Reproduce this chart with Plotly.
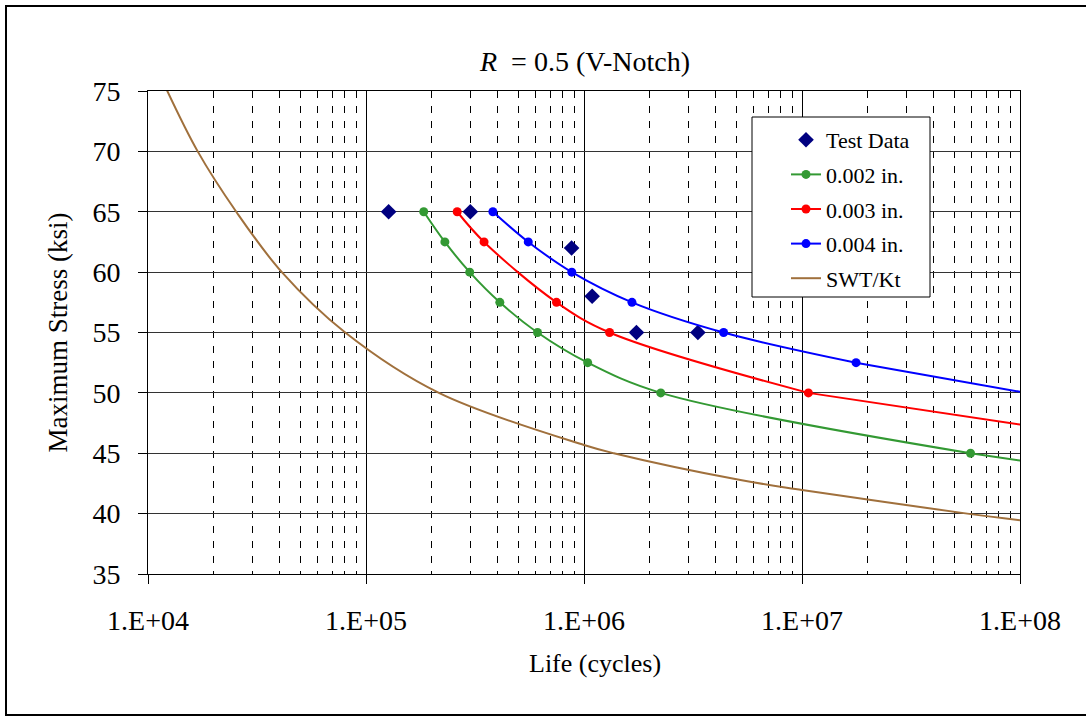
import plotly.graph_objects as go

# ---- data ----
test_life = [1.27e5, 3.01e5, 8.77e5, 1.09e6, 1.74e6, 3.33e6]
test_stress = [65, 65, 62, 58, 55, 55]

g_life = [1.84e5, 2.30e5, 2.99e5, 4.11e5, 6.12e5, 1.04e6, 2.25e6, 5.93e7]
g_stress = [65, 62.5, 60, 57.5, 55, 52.5, 50, 45]

r_life = [2.62e5, 3.48e5, 7.48e5, 1.31e6, 1.07e7]
r_stress = [65, 62.5, 57.5, 55, 50]

b_life = [3.82e5, 5.55e5, 8.79e5, 1.66e6, 4.37e6, 1.77e7]
b_stress = [65, 62.5, 60, 57.5, 55, 52.5]

# continuation of each fitted curve to the right edge
ext_life = 1.09e8
g_ext = 44.3
r_ext = 47.28
b_ext = 49.97

swt_life = [1.18e4, 1.69e4, 2.54e4, 4.11e4, 8.03e4, 2.16e5, 1.0e6, 1.37e6, 5.22e6, 1.0e7, 5.73e7, 1.0e8]
swt_stress = [75.64, 70, 65, 60, 55, 50, 45.68, 45, 42.78, 41.96, 40, 39.46]

x_tickvals = [1e4, 1e5, 1e6, 1e7, 1e8]
x_ticktext = ["1.E+04", "1.E+05", "1.E+06", "1.E+07", "1.E+08"]
y_tickvals = [35, 40, 45, 50, 55, 60, 65, 70, 75]

FONT = "Liberation Serif"
W, H = 1086, 716
L, R, T, B = 148, 66, 91, 142
PW, PH = W - L - R, H - T - B


def px_x(X):
    return (X - L) / PW


def px_y(Y):
    return (H - B - Y) / PH


fig = go.Figure()
fig.add_trace(go.Scatter(
    x=test_life, y=test_stress, mode="markers", name="Test Data", legendgroup="t",
    marker=dict(symbol="diamond", size=12, color="#000080"),
))
for name, xs, ys, ext, col, grp in [
    ("0.002 in.", g_life, g_stress, g_ext, "#339933", "g"),
    ("0.003 in.", r_life, r_stress, r_ext, "#FF0000", "r"),
    ("0.004 in.", b_life, b_stress, b_ext, "#0000FF", "b"),
]:
    fig.add_trace(go.Scatter(
        x=[xs[-1], ext_life], y=[ys[-1], ext], mode="lines", showlegend=False,
        legendgroup=grp, line=dict(color=col, width=2), hoverinfo="skip",
    ))
    fig.add_trace(go.Scatter(
        x=xs, y=ys, mode="lines+markers", name=name, legendgroup=grp,
        line=dict(color=col, width=2, shape="spline", smoothing=1),
        marker=dict(size=9, color=col),
    ))
fig.add_trace(go.Scatter(
    x=swt_life, y=swt_stress, mode="lines", name="SWT/Kt", legendgroup="s",
    line=dict(color="#A0703C", width=2, shape="spline", smoothing=1),
))

fig.update_xaxes(
    type="log", range=[4, 8], tickvals=x_tickvals, ticktext=x_ticktext,
    showline=True, linecolor="black", linewidth=1, mirror=True,
    ticks="outside", ticklen=9, tickcolor="black", tickwidth=1,
    showgrid=True, gridcolor="black", gridwidth=1,
    minor=dict(dtick="D1", showgrid=True, gridcolor="black", gridwidth=1,
               griddash="7px,8px", ticks=""),
    tickfont=dict(family=FONT, size=28, color="black"),
    ticklabelstandoff=12, zeroline=False,
)
fig.update_yaxes(
    range=[35, 75], tickvals=y_tickvals,
    showline=True, linecolor="black", linewidth=1, mirror=True,
    ticks="outside", ticklen=9, tickcolor="black", tickwidth=1,
    showgrid=True, gridcolor="#333333", gridwidth=1,
    tickfont=dict(family=FONT, size=28, color="black"),
    ticklabelstandoff=12, zeroline=False,
)

fig.update_layout(
    width=W, height=H,
    margin=dict(l=L, r=R, t=T, b=B, pad=0),
    paper_bgcolor="white", plot_bgcolor="white",
    font=dict(family=FONT, color="black"),
    showlegend=True,
    legend=dict(
        x=px_x(786), y=px_y(119), xanchor="left", yanchor="top",
        bgcolor="rgba(0,0,0,0)", borderwidth=0,
        font=dict(family=FONT, size=22, color="black"),
        tracegroupgap=3,
    ),
    annotations=[
        dict(text="<i>R</i>  = 0.5 (V-Notch)", x=0.5, y=px_y(62), xref="paper", yref="paper",
             xanchor="center", yanchor="middle", showarrow=False,
             font=dict(family=FONT, size=28, color="black")),
        dict(text="Life (cycles)", x=px_x(595), y=px_y(663), xref="paper", yref="paper",
             xanchor="center", yanchor="middle", showarrow=False,
             font=dict(family=FONT, size=26, color="black")),
        dict(text="Maximum Stress (ksi)", x=px_x(57), y=0.5, xref="paper", yref="paper",
             xanchor="center", yanchor="middle", showarrow=False, textangle=-90,
             font=dict(family=FONT, size=27, color="black")),
    ],
    shapes=[
        dict(type="rect", xref="paper", yref="paper",
             x0=px_x(6), x1=px_x(1092), y0=px_y(715), y1=px_y(6),
             line=dict(color="black", width=2), fillcolor="rgba(0,0,0,0)", layer="below"),
        # legend box
        dict(type="rect", xref="paper", yref="paper",
             x0=px_x(752), x1=px_x(930), y0=px_y(297), y1=px_y(117),
             line=dict(color="black", width=1), fillcolor="white", layer="above"),
    ],
)

fig.write_html("out.html")
